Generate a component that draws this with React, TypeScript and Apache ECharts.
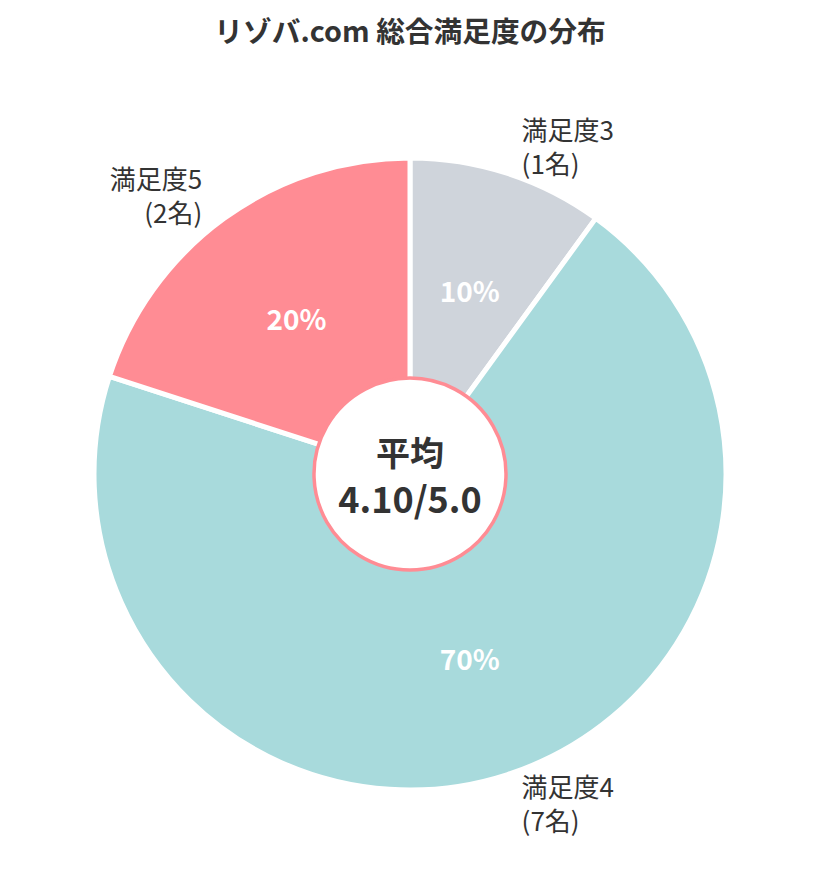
import React, { useEffect, useRef } from "react";
import * as echarts from "echarts";

const TITLE = "リゾバ.com 総合満足度の分布";
const categories = ["満足度3", "満足度4", "満足度5"];
const counts = [1, 7, 2];
const colors = ["#CFD4DB", "#A8DADC", "#FF8C94"];
const averageLabel = "平均";
const averageValue = "4.10/5.0";

const FONT = '"Noto Sans CJK JP", "Noto Sans", sans-serif';

export default function App() {
  const ref = useRef<HTMLDivElement>(null);
  useEffect(() => {
    document.body.style.margin = "0";
    const chart = echarts.init(ref.current!, undefined, { renderer: "svg" });
    const data = categories.map((name, i) => ({
      name,
      value: counts[i],
      itemStyle: { color: colors[i] },
    }));
    chart.setOption({
      animation: false,
      backgroundColor: "#ffffff",
      textStyle: { fontFamily: FONT },
      title: {
        text: TITLE,
        left: "center",
        top: 10,
        textStyle: { fontFamily: FONT, fontSize: 28.7, fontWeight: "bold", color: "#333333" },
      },
      series: [
        {
          type: "pie",
          name: "main",
          center: [410, 474],
          radius: [64, 316],
          startAngle: 90,
          clockwise: true,
          avoidLabelOverlap: false,
          silent: true,
          itemStyle: { borderColor: "#ffffff", borderWidth: 5 },
          label: {
            show: true,
            position: "inside",
            formatter: (p: any) => Math.round(p.percent) + "%",
            color: "#ffffff",
            fontFamily: FONT,
            fontSize: 28,
            fontWeight: "bold",
          },
          labelLine: { show: false },
          data,
        },
        {
          type: "pie",
          name: "labels",
          center: [410, 474],
          radius: [0, 316],
          startAngle: 90,
          clockwise: true,
          avoidLabelOverlap: false,
          silent: true,
          itemStyle: { color: "transparent", borderWidth: 0 },
          label: {
            show: true,
            position: "outside",
            formatter: (p: any) => `${p.name}\n(${p.value}名)`,
            color: "#333333",
            fontFamily: FONT,
            fontSize: 26,
            lineHeight: 34,
          },
          labelLine: { show: false, length: 29, length2: 0 },
          data: categories.map((name, i) => ({ name, value: counts[i] })),
        },
        {
          type: "pie",
          name: "center",
          center: [410, 474],
          radius: [0, 96],
          silent: true,
          itemStyle: { color: "#ffffff", borderColor: "#FF8C94", borderWidth: 3.5 },
          label: {
            show: true,
            position: "center",
            formatter: `{a|${averageLabel}}\n{b|${averageValue}}`,
            rich: {
              a: { fontFamily: FONT, fontSize: 34, fontWeight: "bold", color: "#333333", lineHeight: 46 },
              b: { fontFamily: FONT, fontSize: 36, fontWeight: "bold", color: "#333333", lineHeight: 46 },
            },
          },
          labelLine: { show: false },
          data: [{ name: "avg", value: 1 }],
        },
      ],
    });
    return () => chart.dispose();
  }, []);
  return <div ref={ref} style={{ width: 820, height: 886 }} />;
}
